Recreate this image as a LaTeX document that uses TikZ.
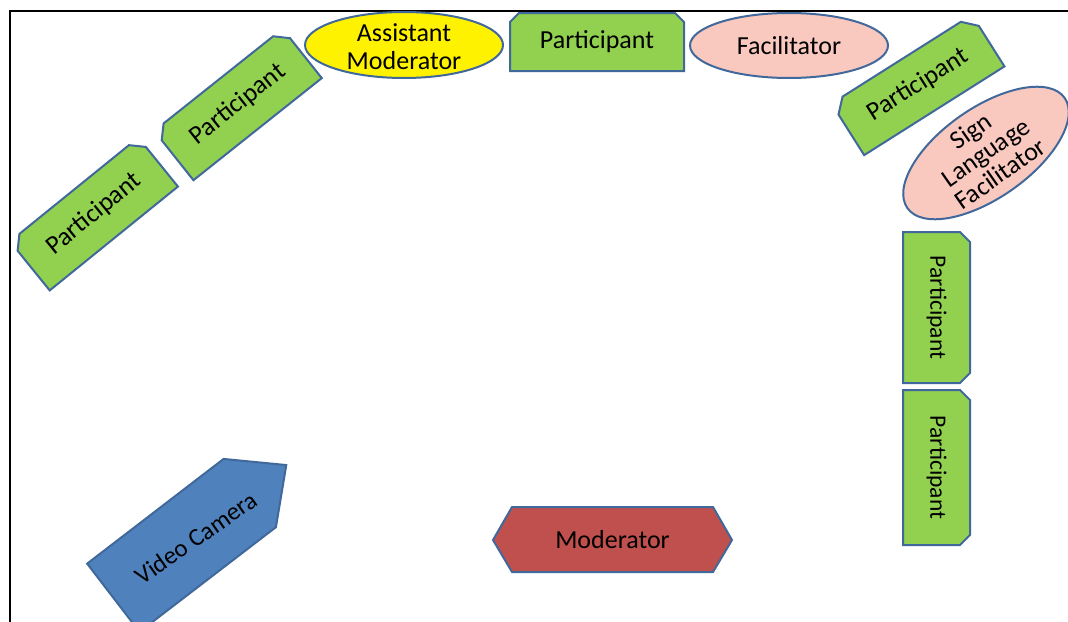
\documentclass[tikz,border=0pt]{standalone}
\usepackage{fontspec}
\setmainfont{Carlito}
\definecolor{edge}{HTML}{41689A}
\definecolor{leaf}{HTML}{92D050}
\definecolor{blush}{HTML}{F9C9C0}
\definecolor{brick}{HTML}{C0504D}
\definecolor{steel}{HTML}{4F81BD}

% Snipped rectangle (both top corners cut) with a label, drawn around its centre.
% #1 name, #2 cx, #3 cy, #4 angle, #5 width, #6 height, #7 snip, #8 font size, #9 text
\newcommand\snipbox[9]{%
  \begin{scope}[shift={(#2,#3)}, rotate=#4]
    \draw[pbox] (-#5pt/2,-#6pt/2) -- (#5pt/2,-#6pt/2) -- (#5pt/2,#6pt/2-#7pt)
      -- (#5pt/2-#7pt,#6pt/2) -- (-#5pt/2+#7pt,#6pt/2) -- (-#5pt/2,#6pt/2-#7pt) -- cycle;
    \node[txt, transform shape, font=\fontsize{#8}{#8}\selectfont] (#1) at (0,0) {#9};
  \end{scope}}

\begin{document}
\begin{tikzpicture}[x=1pt, y=-1pt,
  outline/.style={draw=edge, line width=2pt, line join=miter},
  pbox/.style={outline, fill=leaf},
  txt/.style={inner sep=0pt, align=center, text=black},
  big/.style={font=\fontsize{26}{28}\selectfont}]
\useasboundingbox (0,0) rectangle (1068,621);
\clip (0,0) rectangle (1068,621);

% room border
\draw[line width=2pt] (9.5,640) -- (9.5,10.5) -- (1090,10.5);

% participants
\snipbox{p1}{94}{214}{39}{165}{63}{12}{26}{Participant}
\snipbox{p2}{238}{104.5}{38.5}{164}{63}{12}{26}{Participant}
\snipbox{p3}{597}{42}{0}{174}{58}{9}{26}{Participant}
\snipbox{p4}{918}{85}{32.3}{166}{61}{13}{26}{Participant}
\snipbox{p5}{936.5}{307.5}{-90}{151}{67}{10}{23.5}{Participant}
\snipbox{p6}{936.5}{467.5}{-90}{155}{67}{10}{23.5}{Participant}

% assistant moderator and facilitator
\draw[outline, fill=yellow] (404,45) ellipse [x radius=99pt, y radius=33pt];
\node[txt, big] (am) at (404,47) {Assistant\\Moderator};
\draw[outline, fill=blush] (789,45.5) ellipse [x radius=99pt, y radius=32.5pt];
\node[txt, big] (fac) at (789,45.5) {Facilitator};

% sign language facilitator
\begin{scope}[shift={(986,153)}, rotate=35]
  \draw[outline, fill=blush] (0,0) ellipse [x radius=96pt, y radius=45pt];
  \node[txt, transform shape, font=\fontsize{26}{26}\selectfont] (slf) at (0pt,1pt) {Sign\\Language\\Facilitator};
\end{scope}

% moderator
\draw[outline, fill=brick] (493,540) -- (512,507) -- (713,507) -- (732,540)
  -- (713,572) -- (512,572) -- cycle;
\node[txt, big] (mod) at (612.5,540) {Moderator};

% video camera
\begin{scope}[shift={(199,532)}, rotate=37.5]
  \draw[outline, fill=steel] (-108pt,-43pt) -- (64pt,-43pt) -- (110pt,0pt)
    -- (64pt,43pt) -- (-108pt,43pt) -- cycle;
\end{scope}
\node[txt, rotate=35, font=\fontsize{25}{25}\selectfont] (cam) at (196,538) {Video Camera};
\end{tikzpicture}
\end{document}
